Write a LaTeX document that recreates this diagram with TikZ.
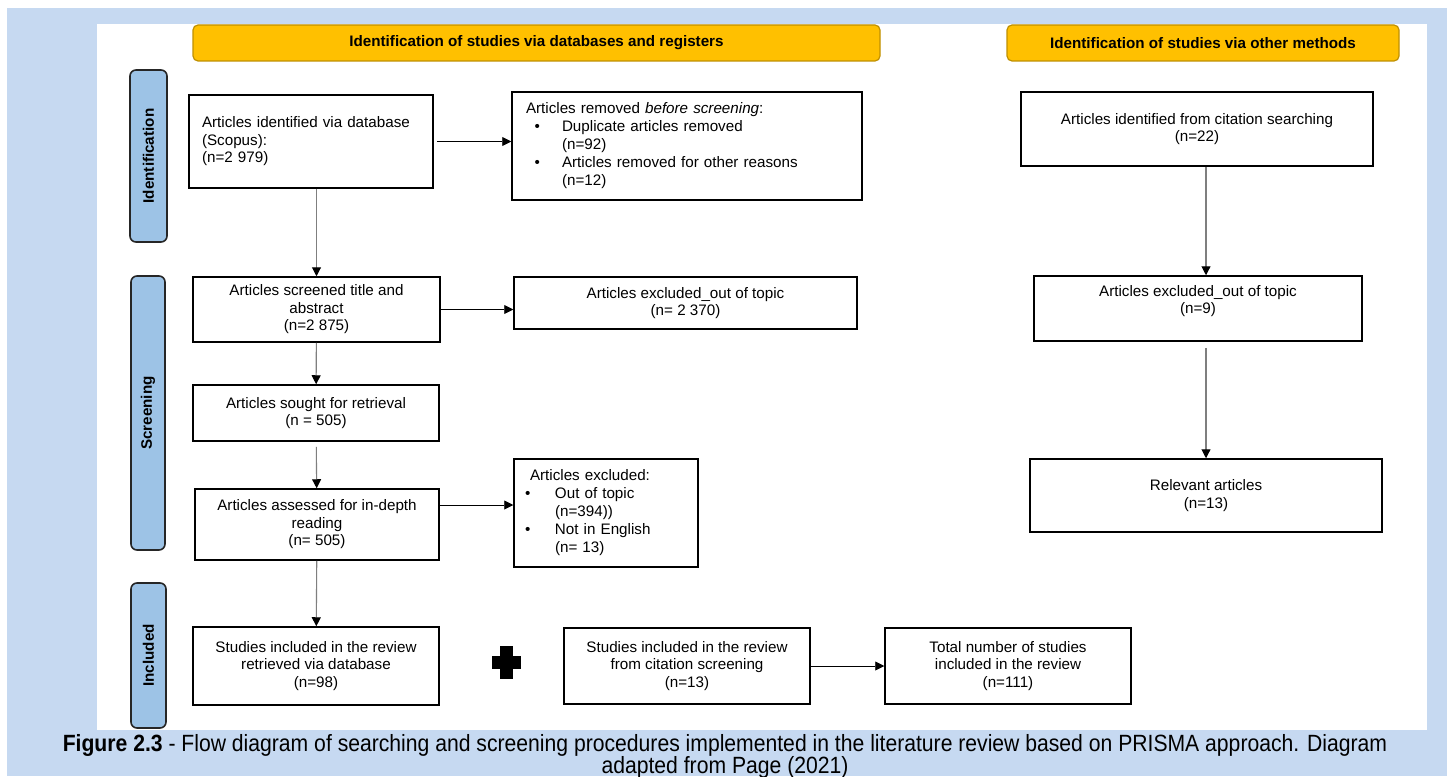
\documentclass[tikz,border=0pt]{standalone}
\usepackage{fontspec}
\setmainfont{Liberation Sans}
\newfontfamily\capfont[FakeStretch=0.9]{Liberation Sans}
\usetikzlibrary{arrows.meta}
\definecolor{pagebg}{HTML}{C6D9F1}
\definecolor{headfill}{HTML}{FFC000}
\definecolor{headline}{HTML}{BF9000}
\definecolor{phasefill}{HTML}{9DC3E6}
\definecolor{linegray}{HTML}{7F7F7F}
\newcommand{\boxfont}{\fontsize{15.2}{17.5}\selectfont}
\newcommand{\listfont}{\fontsize{15.2}{18}\selectfont}
\tikzset{
	box/.style={draw, line width=1.5pt, inner sep=0pt, align=center, font=\boxfont},
	listbox/.style={box, align=left, font=\listfont},
	head/.style={draw=headline, fill=headfill, line width=1.2pt, rounded corners=5pt, inner sep=0pt, font=\boxfont\bfseries},
	phase/.style={draw=black!85, fill=phasefill, line width=1.6pt, rounded corners=6pt, rotate=90, inner sep=0pt, font=\boxfont\bfseries},
	harr/.style={-{Triangle[length=9pt,width=9pt]}, line width=0.9pt},
	varr/.style={-{Triangle[length=9pt,width=9pt,color=black]}, line width=1.1pt, draw=linegray}
}
\begin{document}
\begin{tikzpicture}[x=1pt,y=-1pt]
		\useasboundingbox (0,0) rectangle (1447,776);
		\fill[pagebg] (7,8) rectangle (1447,776);
		\fill[white] (97,24) rectangle (1427,730);
		
		\node[head, minimum width=687pt, minimum height=36pt] (h1) at (536.5,43) {Identification of studies via databases and registers};
		\node[head, minimum width=392pt, minimum height=36pt] (h2) at (1203,43) {Identification of studies via other methods};
		
		\node[phase, minimum width=172pt, minimum height=37pt] (p1) at (148.5,156) {Identification};
		\node[phase, minimum width=274pt, minimum height=34pt] (p2) at (148,413) {Screening};
		\node[phase, minimum width=145pt, minimum height=35pt] (p3) at (148.5,655.5) {Included};
		
		\node[box, align=left, text width=218pt, inner xsep=13pt, minimum height=93pt] (ident) at (311,141.5)
		{Articles identified via database\\(Scopus):\\(n=2 979)};
		\node[listbox, text width=322pt, inner xsep=14pt, minimum height=108pt] (removed) at (687,146)
		{Articles removed \textit{before screening}:\\
			\hspace*{8.5pt}\makebox[27.5pt][l]{\textbullet}Duplicate articles removed\\
			\hspace*{36pt}(n=92)\\
			\hspace*{8.5pt}\makebox[27.5pt][l]{\textbullet}Articles removed for other reasons\\
			\hspace*{36pt}(n=12)};
		\node[box, minimum width=352pt, minimum height=74pt] (citation) at (1197,129)
		{Articles identified from citation searching\\(n=22)};
		
		\node[box, minimum width=247pt, minimum height=65pt] (screened) at (316.5,309.5)
		{Articles screened title and\\abstract\\(n=2 875)};
		\node[box, minimum width=343pt, minimum height=52pt] (excl) at (685.5,303)
		{Articles excluded\_out of topic\\(n= 2 370)};
		\node[box, minimum width=328pt, minimum height=65pt, text depth=18pt] (exclother) at (1198,308.5)
		{Articles excluded\_out of topic\\(n=9)};
		
		\node[box, minimum width=246pt, minimum height=56pt] (sought) at (316,413)
		{Articles sought for retrieval\\(n = 505)};
		\node[box, minimum width=244pt, minimum height=71pt] (assessed) at (317,524.5)
		{Articles assessed for in-depth\\reading\\(n= 505)};
		\node[listbox, text width=162pt, inner xsep=11pt, minimum height=108pt] (reasons) at (606,513)
		{\hspace*{5pt}Articles excluded:\\
			\makebox[30pt][l]{\textbullet}Out of topic\\
			\hspace*{30pt}(n=394))\\
			\makebox[30pt][l]{\textbullet}Not in English\\
			\hspace*{30pt}(n= 13)};
		\node[box, minimum width=352pt, minimum height=73pt] (relevant) at (1206,495.5)
		{Relevant articles\\(n=13)};
		
		\node[box, minimum width=246pt, minimum height=78pt] (incdb) at (316,666)
		{Studies included in the review\\retrieved via database\\(n=98)};
		\node[box, minimum width=246pt, minimum height=76pt] (inccit) at (687,666)
		{Studies included in the review\\from citation screening\\(n=13)};
		\node[box, minimum width=246pt, minimum height=76pt] (total) at (1008,666)
		{Total number of studies\\included in the review\\(n=111)};
		
		\fill (492,656) rectangle (521,669);
		\fill (500,646) rectangle (513,679);
		
		\draw[harr, shorten <=3pt] (ident.east) -- (ident.east -| removed.west);
		\draw[varr] (ident.south -| screened) -- (screened);
		\draw[harr] (screened) -- (screened -| excl.west);
		\draw[varr] (screened) -- (sought);
		\draw[varr, shorten <=5pt] (sought) -- (assessed);
		\draw[harr] ([yshift=19.5pt]assessed.east) -- ([yshift=19.5pt]assessed.east -| reasons.west);
		\draw[varr] (assessed) -- (incdb);
		\draw[varr] (citation.south -| relevant) -- (exclother.north -| relevant);
		\draw[varr, shorten <=6pt] (exclother.south -| relevant) -- (relevant);
		\draw[harr] (inccit) -- (total);
		
		\node[anchor=north, align=center, inner sep=0pt, font=\capfont\fontsize{23.5}{22.5}\selectfont] (caption) at (725,734)
		{\textbf{Figure 2.3} - Flow diagram of searching and screening procedures implemented in the literature review based on PRISMA approach. Diagram\\adapted from Page (2021)};
\end{tikzpicture}
\end{document}
